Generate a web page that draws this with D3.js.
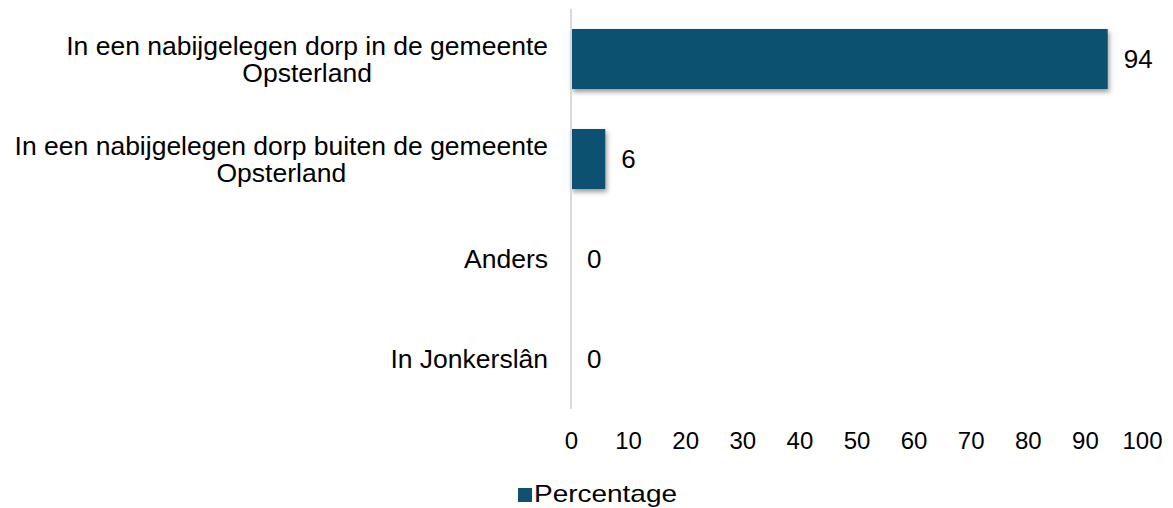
<!DOCTYPE html>
<html>
<head>
<meta charset="utf-8">
<script src="https://cdn.jsdelivr.net/npm/d3@7"></script>
<style>
  body { margin: 0; background: #fff; }
  text { font-family: "Liberation Sans", Arial, sans-serif; fill: #000; }
</style>
</head>
<body>
<div class="chart"></div>
<script>
// chart values
const categories = [
  ['In een nabijgelegen dorp in de gemeente', 'Opsterland'],
  ['In een nabijgelegen dorp buiten de gemeente', 'Opsterland'],
  ['Anders'],
  ['In Jonkerslân']
];
const values = [94, 6, 0, 0];
const ticks = [0, 10, 20, 30, 40, 50, 60, 70, 80, 90, 100];
const seriesName = 'Percentage';
const BAR_COLOR = '#0f516f';

const W = 1173;
const H = 508;

const svg = d3.select('.chart')
  .append('svg')
  .attr('width', W)
  .attr('height', H);

// soft drop shadow like the office export
const defs = svg.append('defs');
const filter = defs.append('filter')
  .attr('id', 'shadow')
  .attr('x', '-10%').attr('y', '-20%')
  .attr('width', '130%').attr('height', '160%');
filter.append('feDropShadow')
  .attr('dx', 1.5).attr('dy', 3)
  .attr('stdDeviation', 2.5)
  .attr('flood-color', '#000')
  .attr('flood-opacity', 0.4);

const x = d3.scaleLinear()
  .domain([0, 100])
  .range([571, 1142]);

const y = d3.scaleBand()
  .domain(d3.range(categories.length))
  .range([9, 409])
  .paddingInner(0.4)
  .paddingOuter(0.2);

// bars
svg.append('g')
  .selectAll('rect')
  .data(values)
  .join('rect')
  .filter(d => d > 0)
  .attr('x', x(0))
  .attr('y', (d, i) => y(i))
  .attr('width', d => x(d) - x(0))
  .attr('height', y.bandwidth())
  .attr('fill', BAR_COLOR)
  .attr('filter', 'url(#shadow)');

// value axis at the bottom, only labels
const axis = d3.axisBottom(x)
  .tickValues(ticks)
  .tickSize(0)
  .tickPadding(0);
const gx = svg.append('g')
  .attr('transform', 'translate(0,432)')
  .call(axis);
gx.select('.domain').remove();
gx.selectAll('text')
  .attr('font-size', 24)
  .attr('font-family', '"Liberation Sans", Arial, sans-serif')
  .attr('fill', '#000');

// category axis line
svg.append('line')
  .attr('x1', x(0)).attr('x2', x(0))
  .attr('y1', 9).attr('y2', 409)
  .attr('stroke', '#d9d9d9')
  .attr('stroke-width', 2);

// category labels, lines centred on each other, block right aligned
const lineH = 27;
const labels = svg.append('g');
categories.forEach((lines, i) => {
  const cy = y(i) + y.bandwidth() / 2;
  const g = labels.append('g');
  const t = g.append('text')
    .attr('font-size', 26.5)
    .attr('text-anchor', 'middle');
  lines.forEach((line, j) => {
    t.append('tspan')
      .attr('x', 0)
      .attr('y', cy + (j - (lines.length - 1) / 2) * lineH)
      .attr('dy', '0.35em')
      .text(line);
  });
  const bb = t.node().getBBox();
  g.attr('transform', `translate(${548 - bb.width / 2},0)`);
});

// value labels
svg.append('g')
  .selectAll('text')
  .data(values)
  .join('text')
  .attr('x', d => x(d) + 16)
  .attr('y', (d, i) => y(i) + y.bandwidth() / 2)
  .attr('dy', '0.35em')
  .attr('font-size', 26)
  .text(d => d);

// legend
const legend = svg.append('g').attr('transform', 'translate(518,488)');
legend.append('rect')
  .attr('width', 14)
  .attr('height', 14)
  .attr('fill', BAR_COLOR);
legend.append('text')
  .attr('x', 16)
  .attr('y', 14)
  .attr('font-size', 24)
  .attr('textLength', 143)
  .attr('lengthAdjust', 'spacingAndGlyphs')
  .text(seriesName);
</script>
</body>
</html>
